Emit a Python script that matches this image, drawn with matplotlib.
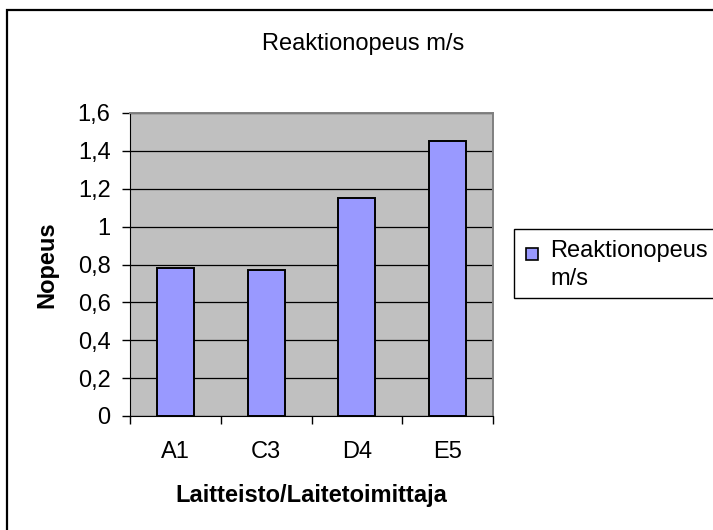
import matplotlib.pyplot as plt
from matplotlib.patches import Rectangle
from matplotlib.ticker import FuncFormatter

plt.rcParams["font.family"] = ["Liberation Sans", "DejaVu Sans"]

categories = ["A1", "C3", "D4", "E5"]
speeds = [0.78, 0.77, 1.15, 1.45]
y_ticks = [0, 0.2, 0.4, 0.6, 0.8, 1.0, 1.2, 1.4, 1.6]
series_name = ["Reaktionopeus", "m/s"]

W, H = 713, 530
FS = 17
BAR_COLOR = "#9999FF"


def fx(px):
    return px / W


def fy(px):
    return 1 - px / H


fig = plt.figure(figsize=(W / 100, H / 100), dpi=100)

# chart-area border (right and bottom edges fall outside the picture)
fig.patches.append(Rectangle((fx(7), fy(560)), fx(760), 550 / H,
                             transform=fig.transFigure, fill=False,
                             edgecolor="black", linewidth=1.6))

ax = fig.add_axes([fx(130), fy(416), fx(363), 303 / H])
ax.set_facecolor("#C0C0C0")

xs = list(range(len(categories)))
ax.bar(xs, speeds, width=0.41, color=BAR_COLOR, edgecolor="black", linewidth=1.4, zorder=3)

ax.set_xlim(-0.5, len(categories) - 0.5)
ax.set_ylim(0, 1.6)
ax.set_yticks(y_ticks)
ax.yaxis.set_major_formatter(FuncFormatter(lambda v, _: f"{v:g}".replace(".", ",")))
ax.grid(axis="y", color="black", linewidth=0.9, zorder=1)

ax.set_xticks([x - 0.5 for x in xs] + [xs[-1] + 0.5])
ax.set_xticklabels([])
ax.set_xticks(xs, minor=True)
ax.set_xticklabels(categories, minor=True)
ax.tick_params(axis="x", which="minor", length=0, pad=18, labelsize=FS)
ax.tick_params(axis="x", which="major", length=6, width=1, direction="out")
ax.tick_params(axis="y", length=6, width=1, direction="out", labelsize=FS, pad=8)

for side in ("top", "right"):
    ax.spines[side].set_color("#808080")
    ax.spines[side].set_linewidth(1.4)
for side in ("left", "bottom"):
    ax.spines[side].set_color("black")

ax.set_ylabel("Nopeus", fontsize=FS, fontweight="bold", labelpad=14)
ax.set_xlabel("Laitteisto/Laitetoimittaja", fontsize=FS, fontweight="bold", labelpad=15)

fig.text(fx(363), fy(50), "Reaktionopeus m/s", ha="center", va="baseline", fontsize=FS)

# legend box, drawn Excel-style with the swatch beside the first line
fig.patches.append(Rectangle((fx(514), fy(298)), fx(230), 69 / H, transform=fig.transFigure,
                             facecolor="white", edgecolor="black", linewidth=1.0))
fig.patches.append(Rectangle((fx(526), fy(260)), fx(12), 12 / H, transform=fig.transFigure,
                             facecolor=BAR_COLOR, edgecolor="black", linewidth=1.2))
fig.text(fx(550), fy(257), series_name[0], ha="left", va="baseline", fontsize=FS)
fig.text(fx(550), fy(285), series_name[1], ha="left", va="baseline", fontsize=FS)

fig.savefig("out.png", dpi=100)
